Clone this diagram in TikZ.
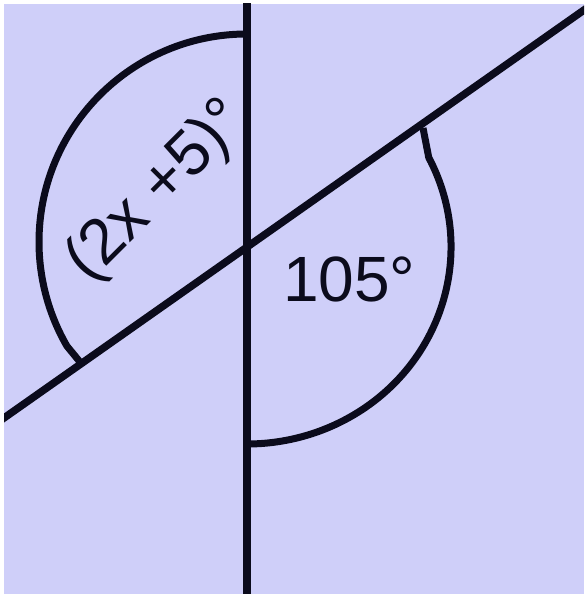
\documentclass[tikz,border=0pt]{standalone}
\usepackage{fontspec}
\setmainfont{Liberation Sans}
\usetikzlibrary{calc}
\definecolor{cbg}{HTML}{CFCFF9}
\definecolor{cink}{HTML}{0B0B1C}
\tikzset{
  every picture/.style={x=1pt, y=1pt},
  ray/.style={draw=cink, line width=7.5pt},
  anglearc/.style={draw=cink, line width=7pt, line join=round},
  lbl/.style={font=\fontsize{64}{70}\selectfont, text=cink, inner sep=0pt},
}

\begin{document}
\begin{tikzpicture}
  \useasboundingbox (0,0) rectangle (584,594);
  \fill[white] (0,0) rectangle (584,594);
  \fill[cbg] (4,0) rectangle (584,590);
  \clip (4,0) rectangle (584,590);
  % the two lines
  \coordinate (O) at (247,347);
  \coordinate (vtop) at (247,600);
  \coordinate (vbot) at (247,-10);
  \coordinate (sl) at (-6,169);
  \coordinate (sr) at (594,591);
  \draw[ray, line width=8.5pt] (vtop) -- (vbot);
  \draw[ray] (sl) -- (sr);
  % angle marks
  \coordinate (L1) at (80,232);
  \coordinate (R1) at (423,466);
  \draw[anglearc] (247,560) arc[start angle=90, end angle=210, radius=208pt] -- (L1);
  \draw[anglearc] (R1) -- ($(O)+(27:204pt and 197pt)$)
    arc[start angle=27, end angle=-90, x radius=204pt, y radius=197pt];
  % labels
  \node[lbl, anchor=base west] (big) at (283,292) {105°};
  \node[lbl, rotate=45] (small) at (158,402) {(2x +5)°};
\end{tikzpicture}
\end{document}
